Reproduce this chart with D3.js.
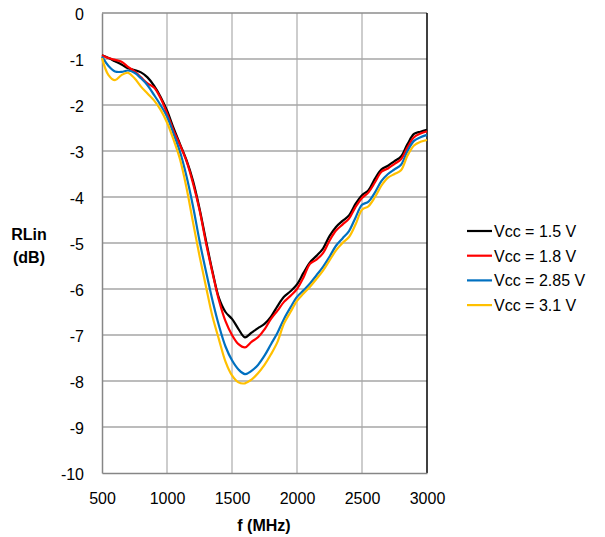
<!DOCTYPE html>
<html><head><meta charset="utf-8">
<script src="https://cdn.jsdelivr.net/npm/d3@7"></script>
<style>body{margin:0;background:#fff}svg{display:block}text{font-family:Arial,"Liberation Sans",sans-serif}</style>
</head><body><svg id="c" width="605" height="537"></svg>
<script>
const freqs = [500,550,600,650,700,750,800,850,900,950,1000,1050,1100,1150,1200,1250,1300,1350,1400,1450,1500,1550,1600,1650,1700,1750,1800,1850,1900,1950,2000,2050,2100,2150,2200,2250,2300,2350,2400,2450,2500,2550,2600,2650,2700,2750,2800,2850,2900,2950,3000];
const vcc15 = [-0.92,-0.98,-1.05,-1.12,-1.2,-1.24,-1.29,-1.4,-1.58,-1.82,-2.12,-2.5,-2.85,-3.2,-3.65,-4.25,-4.95,-5.62,-6.2,-6.5,-6.65,-6.87,-7.05,-6.95,-6.85,-6.76,-6.6,-6.37,-6.17,-6.05,-5.9,-5.65,-5.42,-5.28,-5.12,-4.85,-4.65,-4.52,-4.4,-4.15,-3.96,-3.85,-3.6,-3.4,-3.32,-3.22,-3.12,-2.85,-2.63,-2.58,-2.54];
const vcc18 = [-0.92,-0.98,-1.02,-1.06,-1.17,-1.27,-1.4,-1.53,-1.62,-1.85,-2.18,-2.55,-2.87,-3.22,-3.7,-4.28,-5.0,-5.65,-6.25,-6.7,-7.0,-7.2,-7.27,-7.15,-7.05,-6.88,-6.65,-6.47,-6.28,-6.15,-6.0,-5.75,-5.45,-5.36,-5.22,-4.95,-4.73,-4.6,-4.47,-4.22,-4.02,-3.9,-3.68,-3.45,-3.38,-3.28,-3.18,-2.92,-2.7,-2.62,-2.57];
const vcc285 = [-0.95,-1.15,-1.27,-1.28,-1.25,-1.3,-1.42,-1.57,-1.78,-2.0,-2.25,-2.62,-3.02,-3.55,-4.2,-4.95,-5.62,-6.25,-6.8,-7.25,-7.55,-7.75,-7.85,-7.78,-7.65,-7.45,-7.2,-6.95,-6.65,-6.4,-6.17,-6.03,-5.88,-5.7,-5.52,-5.3,-5.06,-4.9,-4.74,-4.45,-4.17,-4.1,-3.9,-3.65,-3.5,-3.4,-3.3,-3.0,-2.78,-2.7,-2.65];
const vcc31 = [-0.98,-1.35,-1.46,-1.35,-1.3,-1.42,-1.6,-1.75,-1.9,-2.1,-2.38,-2.75,-3.18,-3.8,-4.55,-5.28,-5.95,-6.6,-7.1,-7.58,-7.88,-8.03,-8.05,-7.97,-7.83,-7.65,-7.42,-7.15,-6.75,-6.5,-6.26,-6.1,-5.95,-5.78,-5.6,-5.38,-5.16,-5.0,-4.87,-4.6,-4.28,-4.2,-4.0,-3.75,-3.58,-3.5,-3.42,-3.1,-2.88,-2.8,-2.76];
const seriesNames = ["Vcc = 1.5 V","Vcc = 1.8 V","Vcc = 2.85 V","Vcc = 3.1 V"];
const seriesColors = ["#000000","#ff0000","#0070c0","#ffc000"];
const xTicks = [500,1000,1500,2000,2500,3000];
const yTicks = [0,-1,-2,-3,-4,-5,-6,-7,-8,-9,-10];

const series = [vcc15,vcc18,vcc285,vcc31];
const svg = d3.select("#c");
const L=102,R=427,T=13,B=473;
const x = d3.scaleLinear().domain([500,3000]).range([L,R]);
const y = d3.scaleLinear().domain([-10,0]).range([B,T]);

// grid
const g = svg.append("g");
g.selectAll(".vg").data(xTicks.slice(1,-1)).join("line")
 .attr("x1",d=>x(d)).attr("x2",d=>x(d)).attr("y1",T).attr("y2",B)
 .attr("stroke","#bcbcbc").attr("stroke-width",1.5);
g.selectAll(".hg").data(yTicks.slice(1,-1)).join("line")
 .attr("y1",d=>y(d)).attr("y2",d=>y(d)).attr("x1",L).attr("x2",R)
 .attr("stroke","#a6a6a6").attr("stroke-width",1.5);
// frame
g.append("line").attr("x1",L).attr("x2",R).attr("y1",T).attr("y2",T).attr("stroke","#8c8c8c").attr("stroke-width",1.5);
g.append("line").attr("x1",R).attr("x2",R).attr("y1",T).attr("y2",B).attr("stroke","#000").attr("stroke-width",1.5);

// axes
const xAxis = d3.axisBottom(x).tickValues(xTicks).tickSize(0).tickPadding(20).tickFormat(d3.format("d"));
const yAxis = d3.axisLeft(y).tickValues(yTicks).tickSize(0).tickPadding(18).tickFormat(d=>d===0?"0":String(d).replace("−","-"));
const ax = svg.append("g").attr("transform",`translate(0,${B})`).call(xAxis);
const ay = svg.append("g").attr("transform",`translate(${L},0)`).call(yAxis);
[ax,ay].forEach(a=>{
  a.select(".domain").attr("stroke","#868686").attr("stroke-width",1.5);
  a.selectAll("text").attr("font-size",16).attr("fill","#000").attr("font-family","Arial, 'Liberation Sans', sans-serif");
});
ay.selectAll("text").attr("dy","0.42em");

// lines
const line = d3.line().x((d,i)=>x(freqs[i])).y(d=>y(d)).curve(d3.curveCatmullRom.alpha(0.5));
svg.append("g").selectAll("path").data(series).join("path")
 .attr("d",d=>line(d)).attr("fill","none")
 .attr("stroke",(d,i)=>seriesColors[i]).attr("stroke-width",2.2).attr("stroke-linejoin","round");

// axis titles
svg.append("text").attr("x",264).attr("y",531).attr("text-anchor","middle").attr("font-weight","bold").attr("font-size",16).text("f (MHz)");
svg.append("text").attr("x",29).attr("y",240).attr("text-anchor","middle").attr("font-weight","bold").attr("font-size",16).text("RLin");
svg.append("text").attr("x",29).attr("y",263).attr("text-anchor","middle").attr("font-weight","bold").attr("font-size",16).text("(dB)");

// legend
const lg = svg.append("g").selectAll("g").data(seriesNames).join("g")
 .attr("transform",(d,i)=>`translate(0,${231+i*24.7})`);
lg.append("line").attr("x1",467).attr("x2",492).attr("y1",0).attr("y2",0)
 .attr("stroke",(d,i)=>seriesColors[i]).attr("stroke-width",2.2);
lg.append("text").attr("x",494).attr("y",6).attr("font-size",16).text(d=>d);
</script></body></html>
